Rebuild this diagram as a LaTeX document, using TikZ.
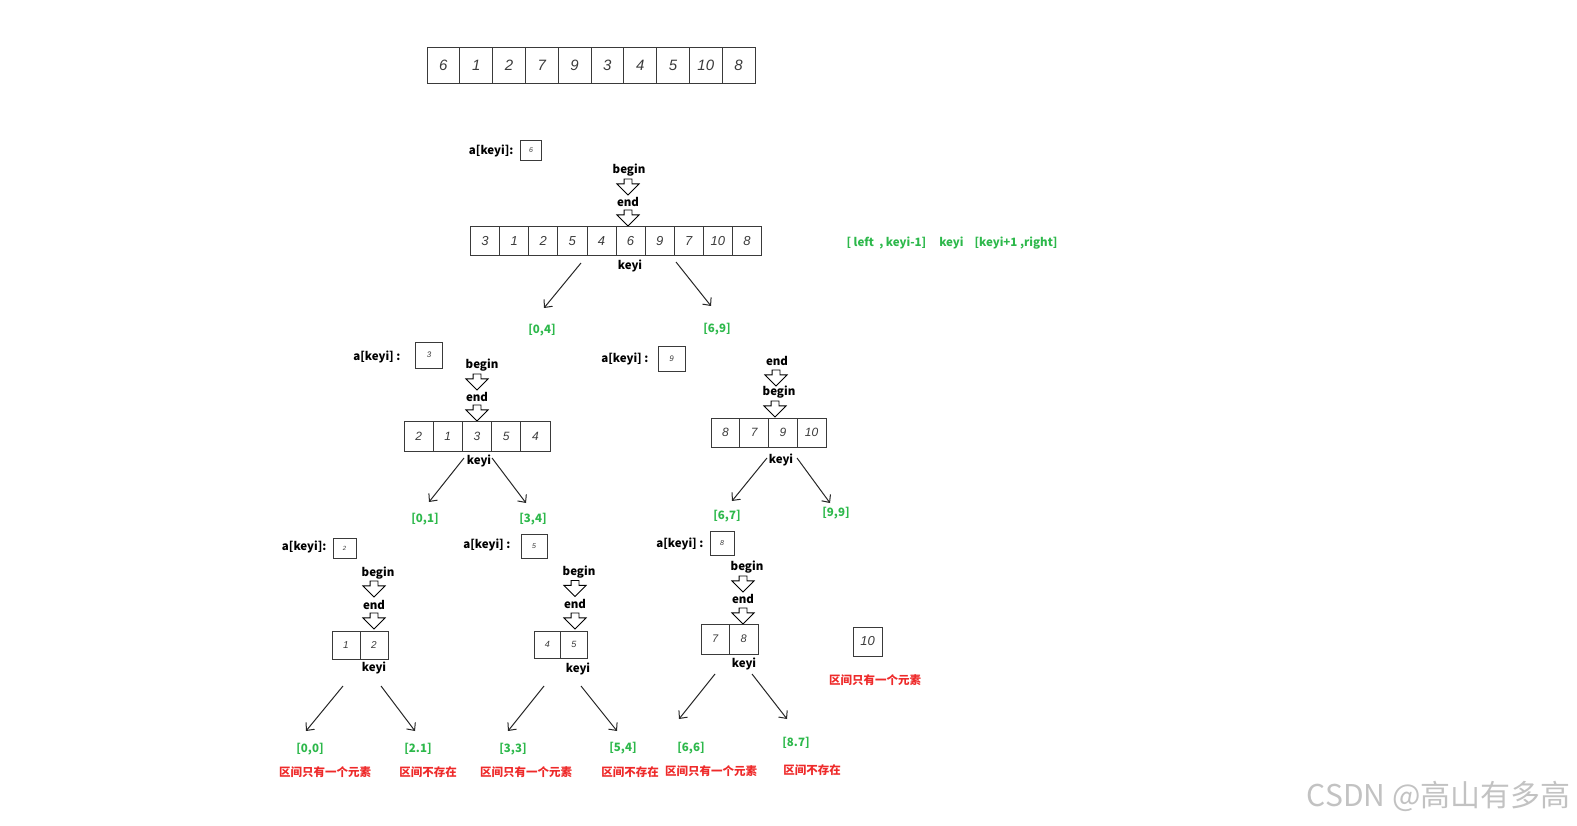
\documentclass[tikz,border=0pt]{standalone}
\usepackage{fontspec}
\setmainfont{Noto Sans CJK SC}
\newfontfamily\handfont{Liberation Sans}
\usetikzlibrary{shapes.arrows, arrows.meta}
\definecolor{kgreen}{HTML}{2DB84B}
\definecolor{kred}{HTML}{EE2A2A}
\definecolor{kline}{HTML}{3A3A3A}
\newcommand{\digits}[1]{\handfont\itshape\fontsize{#1}{#1}\selectfont}

\begin{document}
\begin{tikzpicture}[x=1pt, y=-1pt,
    font=\fontsize{11.5}{13}\selectfont\bfseries,
    cell/.style 2 args={draw=kline, line width=0.8pt, minimum width=#1pt,
                minimum height=#2pt, inner sep=0pt, outer sep=0pt,
                font=\digits{13}, text=kline},
    darr/.style={single arrow, draw=black, line width=0.9pt, fill=white,
                shape border rotate=270, minimum height=16pt,
                minimum width=16pt, inner sep=3.5pt},
    edge/.style={draw=black!85, line width=1pt,
                -{Straight Barb[length=6pt, width=11pt]}},
    rng/.style={text=kgreen},
    note/.style={text=kred}
]
\useasboundingbox (0,0) rectangle (1577,826);

\foreach \v [count=\i] in {6,1,2,7,9,3,4,5,10,8}
    \node[cell={32.8}{36}, font=\digits{15}] (full\i) at ({427+(\i-0.5)*32.8},65) {\v};

% first split
\node[anchor=east] (k1lab) at (517,151) {a[keyi]:};
\node[cell={21}{20}, font=\digits{7}] (k1) at (531,150) {6};
\node (b1) at (629,170) {begin};
\node[darr] (b1a) at (628,185) {};
\node (e1) at (628,202) {end};
\node[darr] (e1a) at (628,216) {};
\foreach \v [count=\i] in {3,1,2,5,4,6,9,7,10,8}
    \node[cell={29.1}{28.5}] (p\i) at ({470.5+(\i-0.5)*29.1},241) {\v};
\node (ki1) at (630,266) {keyi};
\node[rng] (r04) at (542,330) {[0,4]};
\node[rng] (r69) at (717,329) {[6,9]};
\node[rng] (rule) at (952,243) {[ left\ \ , keyi-1]\hspace{13pt}keyi\hspace{11pt}[keyi+1 ,right]};
\coordinate (s1l) at (581,263); \coordinate (t1l) at (544,308);
\coordinate (s1r) at (676,262); \coordinate (t1r) at (711,306);

% left part [0,4]
\node[anchor=east] (k2lab) at (404,357) {a[keyi] :};
\node[cell={27}{26}, font=\digits{8}] (k2) at (429,355) {3};
\node (b2) at (482,365) {begin};
\node[darr] (b2a) at (477,380) {};
\node (e2) at (477,397) {end};
\node[darr] (e2a) at (477,411) {};
\foreach \v [count=\i] in {2,1,3,5,4}
    \node[cell={29.2}{30}, font=\digits{12}] (pl\i) at ({404+(\i-0.5)*29.2},436) {\v};
\node (ki2) at (479,461) {keyi};
\node[rng] (r01) at (425,519) {[0,1]};
\node[rng] (r34) at (533,519) {[3,4]};
\coordinate (s2l) at (464,458); \coordinate (t2l) at (429,502);
\coordinate (s2r) at (492,458); \coordinate (t2r) at (526,503);

% right part [6,9]
\node[anchor=east] (k3lab) at (652,359) {a[keyi] :};
\node[cell={27}{25}, font=\digits{8}] (k3) at (671.5,358.5) {9};
\node (e3) at (777,361) {end};
\node[darr] (e3a) at (776,376) {};
\node (b3) at (779,392) {begin};
\node[darr] (b3a) at (775,407) {};
\foreach \v [count=\i] in {8,7,9,10}
    \node[cell={28.75}{29}, font=\digits{12}] (pr\i) at ({711+(\i-0.5)*28.75},432.5) {\v};
\node (ki3) at (781,460) {keyi};
\node[rng] (r67) at (727,516) {[6,7]};
\node[rng] (r99) at (836,513) {[9,9]};
\coordinate (s3l) at (767,458); \coordinate (t3l) at (732,501);
\coordinate (s3r) at (797,458); \coordinate (t3r) at (830,503);

% [0,1]
\node[anchor=east] (k4lab) at (330,547) {a[keyi]:};
\node[cell={23}{20}, font=\digits{6}] (k4) at (344.5,548) {2};
\node (b4) at (378,573) {begin};
\node[darr] (b4a) at (374,587) {};
\node (e4) at (374,605) {end};
\node[darr] (e4a) at (374,619) {};
\foreach \v [count=\i] in {1,2}
    \node[cell={28}{28}, font=\digits{10}] (pll\i) at ({332+(\i-0.5)*28},645) {\v};
\node (ki4) at (374,668) {keyi};
\node[rng] (r00) at (310,749) {[0,0]};
\node[rng] (r21) at (418,749) {[2.1]};
\node[note] (n00) at (325,772) {区间只有一个元素};
\node[note] (n21) at (428,772) {区间不存在};
\coordinate (s4l) at (343,686); \coordinate (t4l) at (306,731);
\coordinate (s4r) at (381,686); \coordinate (t4r) at (415,731);

% [3,4]
\node[anchor=east] (k5lab) at (514,545) {a[keyi] :};
\node[cell={26}{24}, font=\digits{7}] (k5) at (534,546) {5};
\node (b5) at (579,572) {begin};
\node[darr] (b5a) at (575,586.5) {};
\node (e5) at (575,604) {end};
\node[darr] (e5a) at (575,619) {};
\foreach \v [count=\i] in {4,5}
    \node[cell={26.5}{27}, font=\digits{9}] (plr\i) at ({534+(\i-0.5)*26.5},644.5) {\v};
\node (ki5) at (578,669) {keyi};
\node[rng] (r33) at (513,749) {[3,3]};
\node[rng] (r54) at (623,748) {[5,4]};
\node[note] (n33) at (526,772) {区间只有一个元素};
\node[note] (n54) at (630,772) {区间不存在};
\coordinate (s5l) at (544,686); \coordinate (t5l) at (508,731);
\coordinate (s5r) at (581,686); \coordinate (t5r) at (617,731);

% [6,7] and [9,9]
\node[anchor=east] (k6lab) at (707,544) {a[keyi] :};
\node[cell={24}{24}, font=\digits{7}] (k6) at (722,543) {8};
\node (b6) at (747,567) {begin};
\node[darr] (b6a) at (743,582) {};
\node (e6) at (743,599) {end};
\node[darr] (e6a) at (743,614) {};
\foreach \v [count=\i] in {7,8}
    \node[cell={28.5}{30}, font=\digits{11}] (prl\i) at ({701+(\i-0.5)*28.5},639) {\v};
\node (ki6) at (744,664) {keyi};
\node[rng] (r66) at (691,748) {[6,6]};
\node[rng] (r87) at (796,743) {[8.7]};
\node[note] (n66) at (711,771) {区间只有一个元素};
\node[note] (n87) at (812,770) {区间不存在};
\coordinate (s6l) at (715,674); \coordinate (t6l) at (679,719);
\coordinate (s6r) at (752,674); \coordinate (t6r) at (787,719);
\node[cell={29}{29}, font=\digits{13}] (prr1) at (867.5,641.5) {10};
\node[note] (n99) at (875,680) {区间只有一个元素};

\foreach \a/\b in {s1l/t1l,s1r/t1r,s2l/t2l,s2r/t2r,s3l/t3l,s3r/t3r,
                   s4l/t4l,s4r/t4r,s5l/t5l,s5r/t5r,s6l/t6l,s6r/t6r}
    \draw[edge] (\a)--(\b);

\node[anchor=east, font=\fontsize{30}{30}\selectfont, text=black!24] (mark) at (1574,796) {CSDN @高山有多高};
\end{tikzpicture}
\end{document}
